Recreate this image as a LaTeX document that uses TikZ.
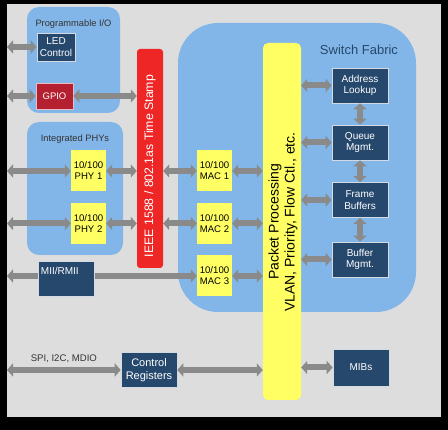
\documentclass[tikz,border=0pt]{standalone}
\usepackage{fontspec}
\setmainfont{Liberation Sans}
\usetikzlibrary{arrows.meta, positioning}

\definecolor{panelgrey}{RGB}{221,221,221}
\definecolor{fabricblue}{RGB}{130,182,232}
\definecolor{navybox}{RGB}{38,72,108}
\definecolor{padyellow}{RGB}{255,255,100}
\definecolor{stampred}{RGB}{238,38,38}
\definecolor{gpiored}{RGB}{180,32,48}
\definecolor{busgrey}{RGB}{138,138,138}

\begin{document}
\begin{tikzpicture}[
			x=1pt, y=-1pt,
			group/.style={fill=fabricblue, rounded corners=12pt},
			grouplabel/.style={font=\fontsize{9.3}{10}\selectfont, text=black!80},
			navy/.style={draw=white!80!navybox, line width=0.6pt, fill=navybox, text=white, align=center, font=\fontsize{10}{11.5}\selectfont, minimum width=56pt, minimum height=35pt, inner sep=1pt},
			port/.style={fill=padyellow, align=center, font=\fontsize{9.6}{11}\selectfont, minimum width=35pt, minimum height=41pt, inner sep=1pt},
			bus/.style={line width=6pt, draw=busgrey, {Triangle[width=13pt,length=6pt]}-{Triangle[width=13pt,length=6pt]}}
			]
			% background and panel
			\fill[black] (0,0) rectangle (448,430);
			\fill[panelgrey] (7,4) rectangle (441,417);
			\useasboundingbox (0,0) rectangle (448,430);

			% groups
			\fill[group] (27,7) rectangle (120,113);
			\node[grouplabel] (pio label) at (73.5,24) {Programmable I/O};
			\fill[group] (27,122) rectangle (123,255);
			\node[grouplabel] (phy label) at (75,139) {Integrated PHYs};
			\fill[fabricblue, rounded corners=40pt] (178,23) rectangle (416,312);
			\node[font=\fontsize{13}{14}\selectfont, text=navybox] (fabric label) at (359,50) {Switch Fabric};

			% blocks
			\node[navy, minimum width=38pt, minimum height=28pt] (led) at (56,47) {LED\\Control};
			\node[draw=white!70!gpiored, line width=0.6pt, fill=gpiored, text=white, font=\fontsize{9.5}{10}\selectfont, minimum width=37pt, minimum height=26pt] (gpio) at (54.5,96) {GPIO};
			\node[fill=stampred, rounded corners=3pt, minimum width=26pt, minimum height=219pt] (stamp) at (150,158.5) {};
			\node[rotate=90, text=white, font=\fontsize{12.3}{13}\selectfont] (stamp text) at (150,166) {IEEE 1588 / 802.1as Time Stamp};

			\node[port] (phy1) at (88.5,171) {10/100\\PHY 1};
			\node[port] (phy2) at (88.5,223.5) {10/100\\PHY 2};
			\node[port] (mac1) at (214.5,171) {10/100\\MAC 1};
			\node[port] (mac2) at (214.5,223.5) {10/100\\MAC 2};
			\node[port] (mac3) at (214.5,276) {10/100\\MAC 3};

			\node[fill=padyellow, rounded corners=5pt, minimum width=38pt, minimum height=357pt] (pp) at (282,221.5) {};
			\node[rotate=90, align=center, font=\fontsize{14}{16}\selectfont] (pp text) at (283,222) {Packet Processing\\VLAN, Priority, Flow Ctl., etc.};

			\node[navy] (addr) at (360,85.5) {Address\\Lookup};
			\node[navy] (queue) at (360,142.5) {Queue\\Mgmt.};
			\node[navy] (frame) at (360,200) {Frame\\Buffers};
			\node[navy] (buffer) at (360,259.5) {Buffer\\Mgmt.};

			% left edge
			\coordinate (edge) at (7,0);

			% buses
			\draw[bus] (edge |- led.west) -- (led.west);
			\draw[bus] (edge |- gpio.west) -- (gpio.west);
			\draw[bus] (gpio.east) -- (gpio.east -| stamp.west);
			\foreach \p/\m in {phy1/mac1, phy2/mac2} {
				\draw[bus] (edge |- \p.west) -- (\p.west);
				\draw[bus] (\p.east) -- (\p.east -| stamp.west);
				\draw[bus] (\m.west -| stamp.east) -- (\m.west);
			}
			\foreach \m in {mac1, mac2, mac3}
				\draw[bus] (\m.east) -- (\m.east -| pp.west);
			\foreach \b in {addr, queue, frame, buffer}
				\draw[bus] (\b.west -| pp.east) -- (\b.west);
			\draw[bus] (addr.south) -- (queue.north);
			\draw[bus] (queue.south) -- (frame.north);
			\draw[bus] (frame.south) -- (buffer.north);

			\draw[bus] (edge |- mac3.west) -- (mac3.west);
			\node[navy, text width=50pt, align=left, text depth=16pt] (mii) at (66,279) {MII/RMII};

			\node[navy, font=\fontsize{11}{13}\selectfont] (ctrl) at (149,370) {Control\\Registers};
			\node[navy, minimum height=37pt] (mibs) at (361,367.5) {MIBs};
			\draw[bus] (edge |- ctrl.west) -- node[above=1pt, font=\fontsize{9.6}{10}\selectfont, text=black!80] (spi) {SPI, I2C, MDIO} (ctrl.west);
			\draw[bus] (ctrl.east) -- (ctrl.east -| pp.west);
			\draw[bus] (mibs.west -| pp.east) -- (mibs.west);
		\end{tikzpicture}
\end{document}
